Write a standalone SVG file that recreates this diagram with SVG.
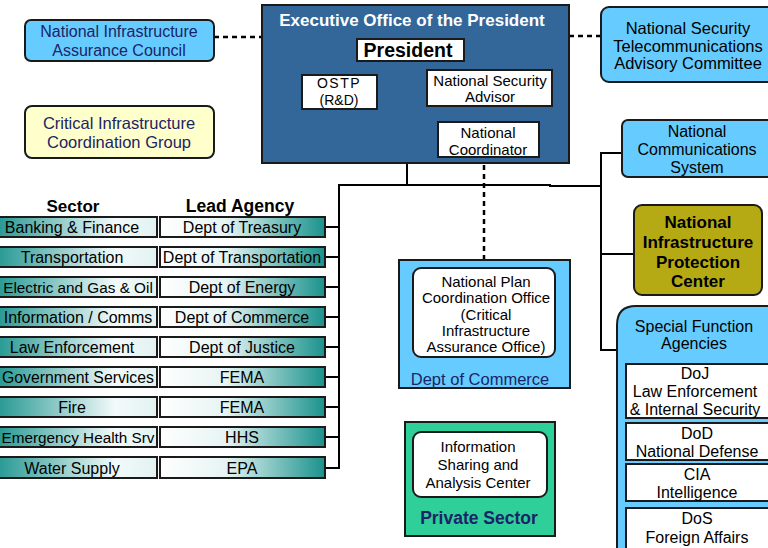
<svg xmlns="http://www.w3.org/2000/svg" width="768" height="548" viewBox="0 0 768 548">
<defs>
<linearGradient id="gSec" x1="0" y1="0" x2="1" y2="0">
<stop offset="0" stop-color="#1A928C"/><stop offset="0.75" stop-color="#F2FAFA"/><stop offset="1" stop-color="#E2F2F1"/>
</linearGradient>
<linearGradient id="gLead" x1="0" y1="0" x2="1" y2="0">
<stop offset="0" stop-color="#FFFFFF"/><stop offset="0.4" stop-color="#E6F4F3"/><stop offset="1" stop-color="#1A928C"/>
</linearGradient>
</defs>
<style>
text{font-family:"Liberation Sans",Arial,sans-serif;text-anchor:middle;}
.t{font-size:16px;fill:#000;}
.s{font-size:15px;fill:#000;}
.n{font-size:16px;fill:#1B2466;}
.b{font-weight:bold;}
.box{stroke:#1a1a1a;stroke-width:2;}
.lb{fill:#66CCFF;}
.wh{fill:#FFFFFF;}
.ln{stroke:#000;stroke-width:2;fill:none;}
.ds{stroke:#000;stroke-width:2.5;fill:none;stroke-dasharray:5,4;}
</style>
<rect width="768" height="548" fill="#FFFFFF"/>

<g id="connectors">
<line class="ds" x1="214" y1="37" x2="262" y2="37"/>
<line class="ds" x1="569" y1="36" x2="601" y2="36"/>
<line class="ln" x1="407" y1="61" x2="407" y2="185"/>
<line class="ln" x1="377" y1="89" x2="427" y2="89"/>
<line class="ln" x1="486" y1="106" x2="486" y2="122"/>
<line class="ds" x1="484" y1="165" x2="484" y2="260"/>
<polyline class="ln" points="339,469 339,185 550,185 550,186 601,186"/>
<polyline class="ln" points="622,153 601,153 601,350 617,350"/>
<line class="ln" x1="601" y1="254" x2="634" y2="254"/>
<g class="ln">
<line x1="325" y1="227" x2="339" y2="227"/>
<line x1="325" y1="257" x2="339" y2="257"/>
<line x1="325" y1="287" x2="339" y2="287"/>
<line x1="325" y1="317" x2="339" y2="317"/>
<line x1="325" y1="347" x2="339" y2="347"/>
<line x1="325" y1="377" x2="339" y2="377"/>
<line x1="325" y1="407" x2="339" y2="407"/>
<line x1="325" y1="437" x2="339" y2="437"/>
<line x1="325" y1="468" x2="339" y2="468"/>
</g>
</g>

<g id="niac">
<rect class="box lb" x="25" y="20" width="189" height="41" rx="6"/>
<text class="n" x="119" y="37">National Infrastructure</text>
<text class="n" x="119" y="56">Assurance Council</text>
</g>
<g id="cicg">
<rect class="box" fill="#FFFFCC" x="25" y="106" width="189" height="52" rx="7"/>
<text class="n" x="119" y="129" style="font-size:16.5px">Critical Infrastructure</text>
<text class="n" x="119" y="148" style="font-size:16.5px">Coordination Group</text>
</g>

<g id="eop">
<rect class="box" fill="#336699" x="262" y="5" width="307" height="158"/>
<text class="b" x="412" y="26" font-size="17" fill="#FFFFFF">Executive Office of the President</text>
</g>
<g id="president">
<rect class="box wh" x="357" y="39" width="107" height="22"/>
<text class="b" x="408" y="57" font-size="19.5">President</text>
</g>
<g id="ostp">
<rect class="box wh" x="302" y="75" width="75" height="34"/>
<text x="339" y="88" font-size="14" letter-spacing="1.5">OSTP</text>
<text x="339" y="105" font-size="14">(R&amp;D)</text>
</g>
<g id="nsa">
<rect class="box wh" x="427" y="70" width="125" height="36"/>
<text class="s" x="490" y="86">National Security</text>
<text class="s" x="490" y="102">Advisor</text>
</g>
<g id="nc">
<rect class="box wh" x="438" y="122" width="101" height="35"/>
<text class="s" x="488" y="138">National</text>
<text class="s" x="488" y="155">Coordinator</text>
</g>

<g id="nstac">
<rect class="box lb" x="601" y="7" width="175" height="75" rx="8"/>
<text class="t" x="688" y="34" style="font-size:16.5px">National Security</text>
<text class="t" x="688" y="52" style="font-size:16.5px">Telecommunications</text>
<text class="t" x="688" y="69" style="font-size:16.5px">Advisory Committee</text>
</g>
<g id="ncs">
<rect class="box lb" x="622" y="120" width="154" height="57" rx="6"/>
<text class="t" x="697" y="137">National</text>
<text class="t" x="697" y="155">Communications</text>
<text class="t" x="697" y="173">System</text>
</g>
<g id="nipc">
<rect class="box" fill="#B5AA14" x="634" y="205" width="128" height="90" rx="8"/>
<text class="b" x="698" y="228" font-size="17">National</text>
<text class="b" x="698" y="248" font-size="17">Infrastructure</text>
<text class="b" x="698" y="268" font-size="17">Protection</text>
<text class="b" x="698" y="287" font-size="17">Center</text>
</g>
<g id="sfa">
<path class="box lb" d="M617,560 L617,325 Q617,306 636,306 L776,306 L776,560 Z"/>
<text class="t" x="694" y="332">Special Function</text>
<text class="t" x="694" y="349">Agencies</text>
</g>
<g id="doj">
<rect class="box wh" x="626" y="364" width="150" height="54"/>
<text class="t" x="695" y="379">DoJ</text>
<text class="t" x="695" y="397">Law  Enforcement</text>
<text class="t" x="695" y="415">&amp; Internal Security</text>
</g>
<g id="dod">
<rect class="box wh" x="626" y="423" width="150" height="37"/>
<text class="t" x="697" y="439">DoD</text>
<text class="t" x="697" y="457">National Defense</text>
</g>
<g id="cia">
<rect class="box wh" x="626" y="464" width="150" height="37"/>
<text class="t" x="697" y="480">CIA</text>
<text class="t" x="697" y="498">Intelligence</text>
</g>
<g id="dos">
<rect class="box wh" x="626" y="508" width="150" height="45"/>
<text class="t" x="697" y="524">DoS</text>
<text class="t" x="697" y="543">Foreign Affairs</text>
</g>

<g id="commerce">
<rect class="box lb" x="399" y="260" width="171" height="128"/>
<rect class="box wh" x="413" y="268" width="142" height="89" rx="8"/>
<text class="s" x="486" y="287">National Plan</text>
<text class="s" x="486" y="303">Coordination Office</text>
<text class="s" x="486" y="320">(Critical</text>
<text class="s" x="486" y="336">Infrastructure</text>
<text class="s" x="486" y="352">Assurance Office)</text>
<text class="n" x="480" y="385" style="font-size:16.5px">Dept of Commerce</text>
</g>
<g id="private">
<rect class="box" fill="#2FCF9A" x="405" y="422" width="150" height="114"/>
<rect class="box wh" x="413" y="432" width="134" height="65" rx="8"/>
<text class="s" x="478" y="452">Information</text>
<text class="s" x="478" y="470">Sharing and</text>
<text class="s" x="478" y="488">Analysis Center</text>
<text class="b" x="479" y="524" font-size="17.5" fill="#1B2466">Private Sector</text>
</g>

<g id="headers">
<text class="b" x="73" y="212" font-size="17">Sector</text>
<text class="b" x="240" y="212" font-size="17.5">Lead Agency</text>
</g>

<g id="row1"><rect class="box" fill="url(#gSec)" x="-10" y="217" width="167" height="20"/><text class="t" x="72" y="233">Banking &amp; Finance</text>
<rect class="box" fill="url(#gLead)" x="160" y="217" width="165" height="20"/><text class="t" x="242" y="233">Dept of Treasury</text></g>
<g id="row2"><rect class="box" fill="url(#gSec)" x="-10" y="247" width="167" height="20"/><text class="t" x="72" y="263">Transportation</text>
<rect class="box" fill="url(#gLead)" x="160" y="247" width="165" height="20"/><text class="t" x="242" y="263">Dept of Transportation</text></g>
<g id="row3"><rect class="box" fill="url(#gSec)" x="-10" y="277" width="167" height="20"/><text class="t" x="78" y="293" style="font-size:15.3px">Electric and Gas &amp; Oil</text>
<rect class="box" fill="url(#gLead)" x="160" y="277" width="165" height="20"/><text class="t" x="242" y="293">Dept of Energy</text></g>
<g id="row4"><rect class="box" fill="url(#gSec)" x="-10" y="307" width="167" height="20"/><text class="t" x="78" y="323" style="font-size:16px">Information / Comms</text>
<rect class="box" fill="url(#gLead)" x="160" y="307" width="165" height="20"/><text class="t" x="242" y="323">Dept of Commerce</text></g>
<g id="row5"><rect class="box" fill="url(#gSec)" x="-10" y="337" width="167" height="20"/><text class="t" x="72" y="353">Law Enforcement</text>
<rect class="box" fill="url(#gLead)" x="160" y="337" width="165" height="20"/><text class="t" x="242" y="353">Dept of Justice</text></g>
<g id="row6"><rect class="box" fill="url(#gSec)" x="-10" y="367" width="167" height="20"/><text class="t" x="78" y="383" style="font-size:15.8px">Government Services</text>
<rect class="box" fill="url(#gLead)" x="160" y="367" width="165" height="20"/><text class="t" x="242" y="383">FEMA</text></g>
<g id="row7"><rect class="box" fill="url(#gSec)" x="-10" y="397" width="167" height="20"/><text class="t" x="72" y="413">Fire</text>
<rect class="box" fill="url(#gLead)" x="160" y="397" width="165" height="20"/><text class="t" x="242" y="413">FEMA</text></g>
<g id="row8"><rect class="box" fill="url(#gSec)" x="-10" y="427" width="167" height="20"/><text class="t" x="78" y="443" style="font-size:15.3px">Emergency Health Srv</text>
<rect class="box" fill="url(#gLead)" x="160" y="427" width="165" height="20"/><text class="t" x="242" y="443">HHS</text></g>
<g id="row9"><rect class="box" fill="url(#gSec)" x="-10" y="457" width="167" height="21"/><text class="t" x="72" y="474">Water Supply</text>
<rect class="box" fill="url(#gLead)" x="160" y="457" width="165" height="21"/><text class="t" x="242" y="474">EPA</text></g>
</svg>
